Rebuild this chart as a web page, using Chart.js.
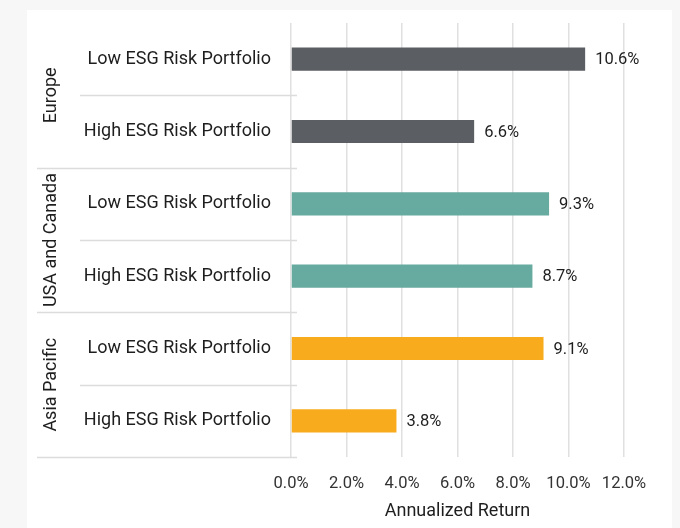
<!DOCTYPE html>
<html lang="en">
  <head>
    <meta charset="utf-8" />
    <title>Annualized Return by ESG Risk</title>
    <style>
      * {
        margin: 0;
        padding: 0;
      }
      body {
        width: 680px;
        height: 528px;
        background: #f7f7f7;
        overflow: hidden;
      }
      .card {
        position: absolute;
        left: 27px;
        top: 10px;
        width: 645px;
        height: 518px;
        background: #ffffff;
      }
    </style>
  </head>
  <body>
    <div class="card">
      <canvas id="myChart" width="645" height="518"></canvas>
    </div>

    <script src="https://cdn.jsdelivr.net/npm/chart.js@4.4.0/dist/chart.umd.min.js"></script>

    <script>
      // data block
      const groups = ["Europe", "USA and Canada", "Asia Pacific"];
      const portfolios = [
        "Low ESG Risk Portfolio",
        "High ESG Risk Portfolio",
        "Low ESG Risk Portfolio",
        "High ESG Risk Portfolio",
        "Low ESG Risk Portfolio",
        "High ESG Risk Portfolio",
      ];
      const returns = [10.6, 6.6, 9.3, 8.7, 9.1, 3.8];
      const groupColors = ["#5b5e62", "#67aa9f", "#f8ab1d"];
      const xTicks = [0, 2, 4, 6, 8, 10, 12];

      const barColors = returns.map((v, i) => groupColors[Math.floor(i / 2)]);
      const fontFamily = "Roboto, 'Noto Sans', sans-serif";

      // value labels at bar ends
      const valueLabels = {
        id: "valueLabels",
        afterDatasetsDraw(chart) {
          const { ctx } = chart;
          const meta = chart.getDatasetMeta(0);
          ctx.save();
          ctx.font = "16.5px " + fontFamily;
          ctx.fillStyle = "#1e1e1e";
          ctx.textAlign = "left";
          ctx.textBaseline = "middle";
          meta.data.forEach((bar, i) => {
            ctx.fillText(returns[i].toFixed(1) + "%", bar.x + 10, bar.y + 1);
          });
          ctx.restore();
        },
      };

      // row separators and group labels on the left
      const groupAxis = {
        id: "groupAxis",
        afterDraw(chart) {
          const { ctx, chartArea, scales } = chart;
          const y = scales.y;
          const step = y.getPixelForValue(1) - y.getPixelForValue(0);
          ctx.save();
          ctx.strokeStyle = "#dcdcdc";
          ctx.lineWidth = 1.5;
          for (let i = 0; i < portfolios.length; i++) {
            const yy = Math.round(y.getPixelForValue(i) + step / 2) + 0.5;
            const isGroupEnd = i % 2 === 1;
            ctx.beginPath();
            ctx.moveTo(isGroupEnd ? 10 : 53, yy);
            ctx.lineTo(chartArea.left + 6, yy);
            ctx.stroke();
          }

          ctx.font = "18px " + fontFamily;
          ctx.fillStyle = "#1e1e1e";
          ctx.textAlign = "center";
          ctx.textBaseline = "middle";
          groups.forEach((g, gi) => {
            const yc = (y.getPixelForValue(gi * 2) + y.getPixelForValue(gi * 2 + 1)) / 2;
            ctx.save();
            ctx.translate(24, yc);
            ctx.rotate(-Math.PI / 2);
            ctx.fillText(g, 0, 0);
            ctx.restore();
          });
          ctx.restore();
        },
      };

      // config block
      const config = {
        type: "bar",
        data: {
          labels: portfolios,
          datasets: [
            {
              label: "Annualized Return",
              data: returns,
              backgroundColor: barColors,
              borderWidth: 0,
              barPercentage: 0.32,
              categoryPercentage: 1,
            },
          ],
        },
        options: {
          indexAxis: "y",
          responsive: false,
          animation: false,
          layout: {
            padding: { top: 13, right: 48, bottom: 5, left: 0 },
          },
          plugins: {
            legend: { display: false },
            tooltip: { enabled: false },
          },
          scales: {
            x: {
              min: 0,
              max: 12,
              afterBuildTicks: (scale) => {
                scale.ticks = xTicks.map((v) => ({ value: v }));
              },
              afterFit: (scale) => {
                scale.height = 66;
              },
              border: { display: false },
              grid: {
                color: "#e0e0e0",
                lineWidth: 1.5,
                drawTicks: false,
              },
              ticks: {
                padding: 17,
                maxRotation: 0,
                color: "#333",
                font: { family: fontFamily, size: 16.5 },
                callback: (v) => v.toFixed(1) + "%",
              },
              title: {
                display: true,
                text: "Annualized Return",
                color: "#1e1e1e",
                font: { family: fontFamily, size: 18 },
                padding: { top: 6, bottom: 1 },
              },
            },
            y: {
              afterFit: (scale) => {
                scale.width = 264;
                scale.paddingTop = 0;
                scale.paddingBottom = 0;
              },
              border: { display: false },
              grid: { display: false, drawTicks: false },
              ticks: {
                padding: 20,
                color: "#1e1e1e",
                font: { family: fontFamily, size: 18 },
              },
            },
          },
        },
        plugins: [valueLabels, groupAxis],
      };

      // init render block
      const myChart = new Chart(document.getElementById("myChart"), config);
    </script>
  </body>
</html>
